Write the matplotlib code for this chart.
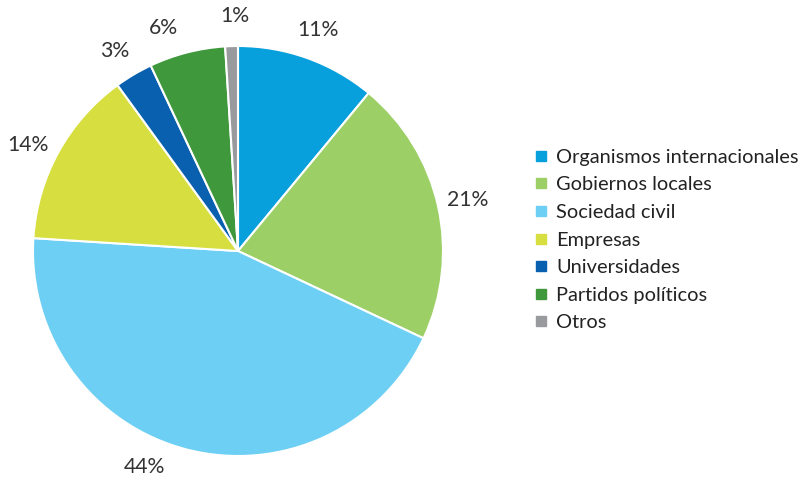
import matplotlib
matplotlib.use("Agg")
import numpy as np
import matplotlib.pyplot as plt
from matplotlib.lines import Line2D

categories = ["Organismos internacionales", "Gobiernos locales", "Sociedad civil",
              "Empresas", "Universidades", "Partidos políticos", "Otros"]
values = [11, 21, 44, 14, 3, 6, 1]
labels = ["11%", "21%", "44%", "14%", "3%", "6%", "1%"]
colors = ["#079fdc", "#9ccf66", "#6ccff3", "#d6df3f", "#0960ae", "#40983c", "#999a9e"]
# small angular nudges (degrees) applied to label placement, as in the original
label_nudge = [0, 0, -9, 2, 1, 4, -1]

plt.rcParams['font.family'] = ['Lato', 'DejaVu Sans']
FS = 15.3
LFS = 14.4

fig = plt.figure(figsize=(7.99, 4.78), dpi=100)
ax = fig.add_axes([33/799, 22/478, 410/799, 410/478])
wedges, _ = ax.pie(values, colors=colors, startangle=90, counterclock=False,
                   wedgeprops=dict(edgecolor="white", linewidth=1.5))
for w, lab, nd in zip(wedges, labels, label_nudge):
    ang = np.deg2rad((w.theta1 + w.theta2) / 2 + nd)
    ax.text(1.148 * np.cos(ang), 1.148 * np.sin(ang), lab, ha="center", va="center",
            fontsize=FS, color="#333333", clip_on=False)
ax.set_xlim(-1, 1)
ax.set_ylim(-1, 1)
ax.set_aspect("equal")
ax.set_axis_off()

handles = [Line2D([0], [0], marker="s", linestyle="none", markersize=7.9,
                  markerfacecolor=c, markeredgecolor=c) for c in colors]
leg = fig.legend(handles, categories, loc="center left", bbox_to_anchor=(532.5/799, 1 - 240/478),
                 frameon=False, fontsize=LFS, handlelength=0.8, handletextpad=0.38,
                 labelspacing=0.53, borderaxespad=0, borderpad=0)
for t in leg.get_texts():
    t.set_color("#222222")

fig.savefig("out.png", dpi=100)
